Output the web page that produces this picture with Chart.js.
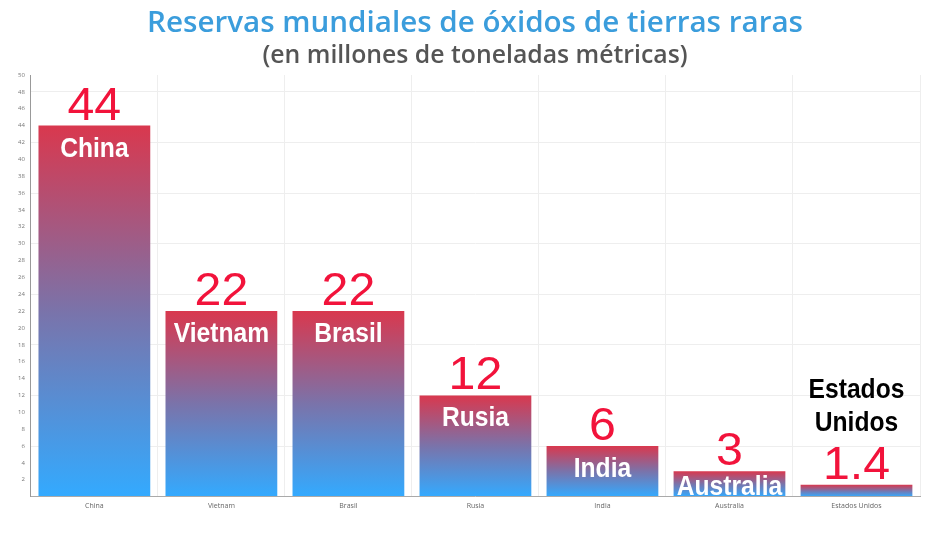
<!DOCTYPE html>
<html>
<head>
<meta charset="utf-8">
<script src="https://cdn.jsdelivr.net/npm/chart.js@4/dist/chart.umd.min.js"></script>
<style>
  html, body { margin: 0; padding: 0; background: #fff; }
  #wrap { width: 950px; height: 534px; }
</style>
</head>
<body>
<div id="wrap"><canvas id="chart" width="950" height="534"></canvas></div>
<script>
const countries = ['China', 'Vietnam', 'Brasil', 'Rusia', 'India', 'Australia', 'Estados Unidos'];
const reserves = [44, 22, 22, 12, 6, 3, 1.4];
const valueLabels = ['44', '22', '22', '12', '6', '3', '1.4'];
const titleText = 'Reservas mundiales de óxidos de tierras raras';
const subtitleText = '(en millones de toneladas métricas)';

// bar fill: red at each bar's top, blue at the base
function barGradient(ctx) {
  const chart = ctx.chart;
  if (!chart.chartArea || !chart.scales.y) return '#3aa0f0';
  const y = chart.scales.y;
  const top = y.getPixelForValue(ctx.raw);
  const base = y.getPixelForValue(0);
  const g = chart.ctx.createLinearGradient(0, top, 0, base);
  g.addColorStop(0, '#d9384e');
  g.addColorStop(0.5, '#7a73aa');
  g.addColorStop(1, '#33aaff');
  return g;
}

// narrow text, like the condensed labels of the original
function narrowText(c, text, x, y, sx) {
  c.save();
  c.translate(x, y);
  c.scale(sx, 1);
  c.fillText(text, 0, 0);
  c.restore();
}

// title centred on the whole canvas, not on the padded box
const headings = {
  id: 'headings',
  afterDraw(chart) {
    const c = chart.ctx;
    c.save();
    c.textAlign = 'center';
    c.textBaseline = 'alphabetic';
    c.fillStyle = '#3b9ddc';
    c.font = '600 29.6px "Open Sans", sans-serif';
    c.fillText(titleText, chart.width / 2, 32);
    c.fillStyle = '#555';
    c.font = '600 24.8px "Open Sans", sans-serif';
    c.fillText(subtitleText, chart.width / 2, 63);
    c.restore();
  }
};

const barText = {
  id: 'barText',
  afterDatasetsDraw(chart) {
    const c = chart.ctx;
    const meta = chart.getDatasetMeta(0);
    const base = chart.scales.y.getPixelForValue(0);
    c.save();
    c.textAlign = 'center';
    c.textBaseline = 'alphabetic';
    meta.data.forEach((bar, i) => {
      const x = bar.x, top = bar.y;
      c.fillStyle = '#f2133b';
      c.font = '46px "Liberation Sans", Arial, sans-serif';
      narrowText(c, valueLabels[i], x, top - 6, 1.05);
      c.font = 'bold 28px "Liberation Sans", Arial, sans-serif';
      if (i === countries.length - 1) {
        c.fillStyle = '#000';
        const parts = countries[i].split(' ');
        narrowText(c, parts[0], x, top - 87, 0.88);
        narrowText(c, parts[1], x, top - 54, 0.88);
      } else {
        c.fillStyle = '#fff';
        narrowText(c, countries[i], x, Math.min(top + 31, base - 2), 0.88);
      }
    });
    c.restore();
  }
};

new Chart(document.getElementById('chart'), {
  type: 'bar',
  data: {
    labels: countries,
    datasets: [{
      data: reserves,
      backgroundColor: barGradient,
      borderWidth: 0,
      barPercentage: 0.88,
      categoryPercentage: 1.0
    }]
  },
  options: {
    responsive: false,
    animation: false,
    layout: { padding: { left: 12, right: 30, top: 75, bottom: 19 } },
    plugins: {
      legend: { display: false },
      tooltip: { enabled: false },
      title: { display: false }
    },
    scales: {
      x: {
        grid: { color: '#eeeeee', offset: true, drawTicks: false },
        border: { color: '#aaa' },
        ticks: { color: '#666', font: { family: '"Open Sans", sans-serif', size: 7 }, padding: 5 }
      },
      y: {
        min: 0,
        max: 50,
        grid: {
          color: (ctx) => (ctx.tick && ctx.tick.value % 6 === 0) ? '#eeeeee' : 'rgba(0,0,0,0)',
          drawTicks: false
        },
        border: { color: '#999' },
        ticks: {
          stepSize: 2,
          color: '#777',
          font: { family: '"Open Sans", sans-serif', size: 6 },
          padding: 6,
          callback: (v) => v === 0 ? '' : v
        }
      }
    }
  },
  plugins: [barText, headings]
});
</script>
</body>
</html>
